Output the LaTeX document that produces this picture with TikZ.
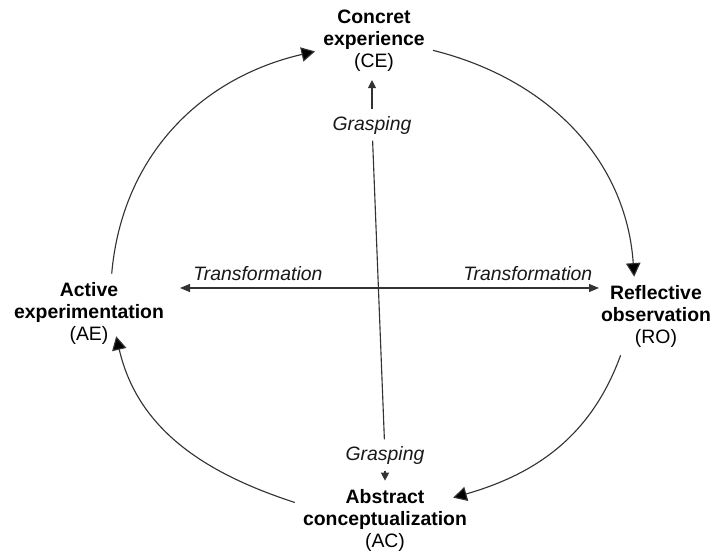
\documentclass[tikz,border=0pt]{standalone}
\usepackage{fontspec}
\setmainfont{Liberation Sans}
\usetikzlibrary{arrows.meta}
\tikzset{%
  stage/.style    = {align=center, inner sep=0.2cm, text=black,%
                     font=\fontsize{13.8pt}{15.65pt}\selectfont},%
  mode/.style     = {text=black!90, inner sep=0.16cm,%
                     font=\itshape\fontsize{13.8pt}{15.65pt}\selectfont},%
  phasearrow/.style = {draw=black!80, line width=0.8pt,%
                     -{Triangle[length=0.34cm,width=0.36cm,fill=black]}},%
  transarrow/.style = {draw=black!80, line width=0.8pt,%
                     {Triangle[length=0.25cm,width=0.2cm]}-{Triangle[length=0.25cm,width=0.2cm]}},%
  grasparrow/.style = {draw=black!80, line width=0.8pt,%
                     -{Triangle[length=0.2cm,width=0.2cm]}}%
}
\begin{document}
\begin{tikzpicture}
		\useasboundingbox (0,0) rectangle (17.825,-13.775);
		\node [stage] (CE) at (9.35,-1.025) {\textbf{Concret}\\\textbf{experience}\\(CE)};
		\node [stage] (RO) at (16.4,-7.9) {\textbf{Reflective}\\\textbf{observation}\\(RO)};
		\node [stage] (AC) at (9.625,-13.0) {\textbf{Abstract}\\\textbf{conceptualization}\\(AC)};
		\node [stage] (AE) at (2.225,-7.825) {\textbf{Active}\\\textbf{experimentation}\\(AE)};
		\node [mode] (G1) at (9.3,-3.125) {Grasping};
		\node [mode] (G2) at (9.625,-11.375) {Grasping};
		\coordinate (tleft) at (4.5,-7.2);
		\coordinate (tright) at (14.975,-7.2);
		\draw [phasearrow] (CE.-9) to[out=-14,in=94] (RO.119);
		\draw [phasearrow] (RO.228) to[out=250,in=16] ([xshift=-0.55cm,yshift=-0.425cm]AC.north east);
		\draw [phasearrow] (AC.169) to[out=162,in=283] ([xshift=-1.4cm,yshift=0.4cm]AE.south east);
		\draw [phasearrow] (AE.60) to[out=85,in=193] (CE.190);
		\draw [transarrow] (tleft) -- (tright)
			node [mode, above, pos=0.186] {Transformation}
			node [mode, above, pos=0.83] {Transformation};
		\draw [grasparrow] (G1.north) -- (G1.north |- CE.south);
		\draw [draw=black!80, line width=0.8pt] (G1) -- (G2);
		\draw [grasparrow] (G2.south) -- (G2.south |- AC.north);
	\end{tikzpicture}
\end{document}
